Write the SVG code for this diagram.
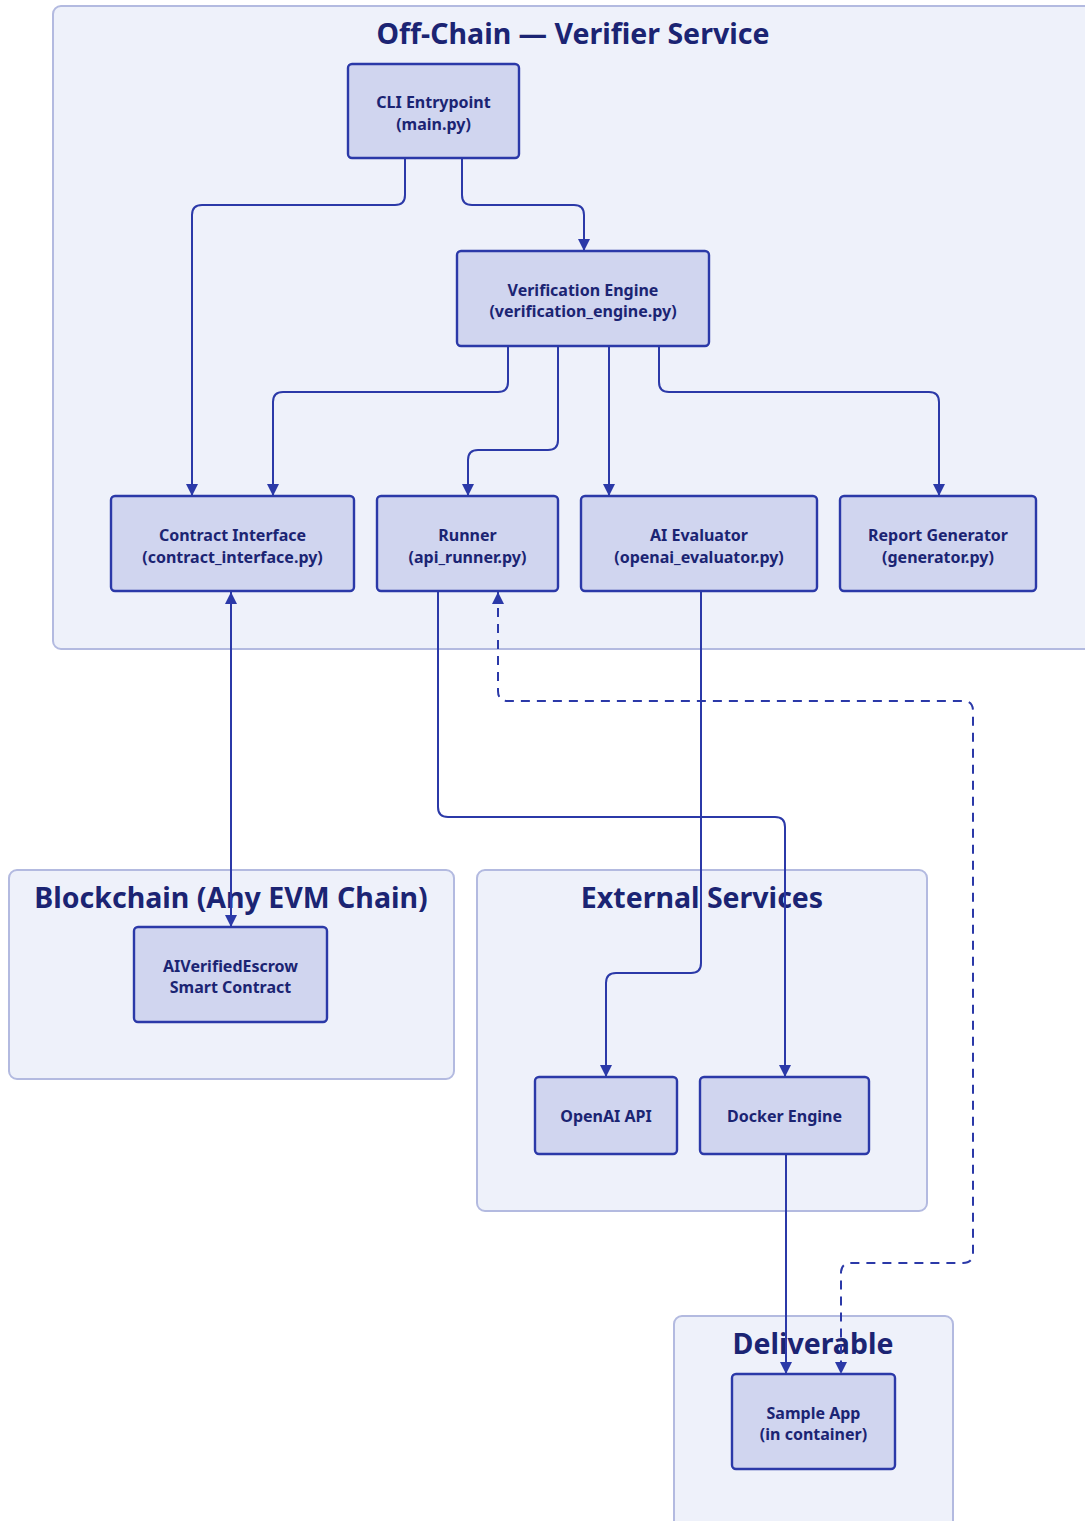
<svg xmlns="http://www.w3.org/2000/svg" width="1085" height="1521" viewBox="0 0 1085 1521">
<defs>
<style>
.cluster{fill:#eef1fa;stroke:#b3bae0;stroke-width:2}
.ctitle{font-family:"Noto Sans","Liberation Sans",sans-serif;font-weight:700;font-size:28.5px;fill:#1b2473;text-anchor:middle}
.node rect{fill:#d0d5ef;stroke:#2b39a8;stroke-width:2.4}
.node text{font-family:"Noto Sans","Liberation Sans",sans-serif;font-weight:700;font-size:16px;fill:#1b2473;text-anchor:middle}
.edge{fill:none;stroke:#2b39a8;stroke-width:2}
.dash{stroke-dasharray:9 7}
</style>
<marker id="arr" viewBox="0 0 12 12" refX="12" refY="6" markerWidth="12" markerHeight="12" markerUnits="userSpaceOnUse" orient="auto-start-reverse">
<path d="M0,0 L12,6 L0,12 z" fill="#2b39a8"/>
</marker>
</defs>
<rect width="1085" height="1521" fill="#ffffff"/>
<g id="clusters">
<g id="cluster-offchain"><rect class="cluster" x="53" y="6" width="1050" height="643" rx="8"/><text class="ctitle" x="573" y="44">Off-Chain — Verifier Service</text></g>
<g id="cluster-blockchain"><rect class="cluster" x="9" y="870" width="445" height="209" rx="8"/><text class="ctitle" x="231" y="908">Blockchain (Any EVM Chain)</text></g>
<g id="cluster-external"><rect class="cluster" x="477" y="870" width="450" height="341" rx="8"/><text class="ctitle" x="702" y="908">External Services</text></g>
<g id="cluster-deliverable"><rect class="cluster" x="674" y="1316" width="279" height="220" rx="8"/><text class="ctitle" x="813" y="1354">Deliverable</text></g>
</g>
<g id="connectors">
<path class="edge" marker-end="url(#arr)" d="M405,158 V195 Q405,205 395,205 H202 Q192,205 192,215 V496"/>
<path class="edge" marker-end="url(#arr)" d="M462,158 V195 Q462,205 472,205 H574 Q584,205 584,215 V251"/>
<path class="edge" marker-end="url(#arr)" d="M508,346 V382 Q508,392 498,392 H283 Q273,392 273,402 V496"/>
<path class="edge" marker-end="url(#arr)" d="M558,346 V440 Q558,450 548,450 H478 Q468,450 468,460 V496"/>
<path class="edge" marker-end="url(#arr)" d="M609,346 V496"/>
<path class="edge" marker-end="url(#arr)" d="M659,346 V382 Q659,392 669,392 H929 Q939,392 939,402 V496"/>
<path class="edge" marker-start="url(#arr)" marker-end="url(#arr)" d="M231,592 V927"/>
<path class="edge" marker-end="url(#arr)" d="M438,591 V807 Q438,817 448,817 H775 Q785,817 785,827 V1077"/>
<path class="edge" marker-end="url(#arr)" d="M701,591 V963 Q701,973 691,973 H616 Q606,973 606,983 V1077"/>
<path class="edge" marker-end="url(#arr)" d="M786,1154 V1374"/>
<path class="edge dash" marker-start="url(#arr)" marker-end="url(#arr)" d="M498,592 V691 Q498,701 508,701 H963 Q973,701 973,711 V1253 Q973,1263 963,1263 H851 Q841,1263 841,1273 V1374"/>
</g>
<g id="node-cli" class="node"><rect x="348" y="64" width="171" height="94" rx="4"/><text x="433.5" y="108">CLI Entrypoint</text><text x="433.5" y="130">(main.py)</text></g>
<g id="node-engine" class="node"><rect x="457" y="251" width="252" height="95" rx="4"/><text x="583" y="296">Verification Engine</text><text x="583" y="317">(verification_engine.py)</text></g>
<g id="node-contract" class="node"><rect x="111" y="496" width="243" height="95" rx="4"/><text x="232.5" y="541">Contract Interface</text><text x="232.5" y="563">(contract_interface.py)</text></g>
<g id="node-runner" class="node"><rect x="377" y="496" width="181" height="95" rx="4"/><text x="467.5" y="541">Runner</text><text x="467.5" y="563">(api_runner.py)</text></g>
<g id="node-evaluator" class="node"><rect x="581" y="496" width="236" height="95" rx="4"/><text x="699" y="541">AI Evaluator</text><text x="699" y="563">(openai_evaluator.py)</text></g>
<g id="node-report" class="node"><rect x="840" y="496" width="196" height="95" rx="4"/><text x="938" y="541">Report Generator</text><text x="938" y="563">(generator.py)</text></g>
<g id="node-escrow" class="node"><rect x="134" y="927" width="193" height="95" rx="4"/><text x="230.5" y="972">AIVerifiedEscrow</text><text x="230.5" y="993">Smart Contract</text></g>
<g id="node-openai" class="node"><rect x="535" y="1077" width="142" height="77" rx="4"/><text x="606" y="1122">OpenAI API</text></g>
<g id="node-docker" class="node"><rect x="700" y="1077" width="169" height="77" rx="4"/><text x="784.5" y="1122">Docker Engine</text></g>
<g id="node-sample" class="node"><rect x="732" y="1374" width="163" height="95" rx="4"/><text x="813.5" y="1419">Sample App</text><text x="813.5" y="1440">(in container)</text></g>
</svg>
